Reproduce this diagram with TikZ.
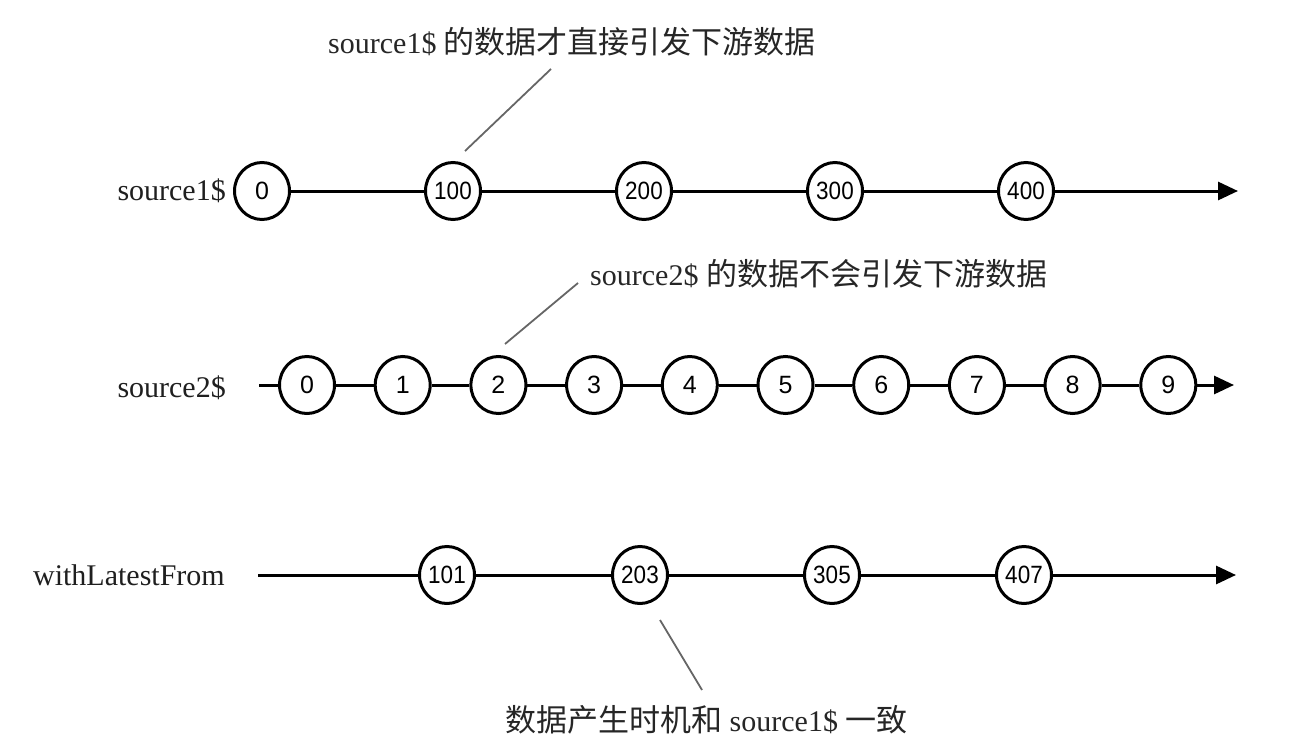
\documentclass[tikz,border=0pt]{standalone}
\usepackage{fontspec}
\usepackage{graphicx}
\setmainfont{Liberation Serif}
\newfontfamily\cjkfam{Noto Sans CJK SC}
\newcommand{\cjk}{\cjkfam\fontsize{31}{34}\selectfont}
\newfontfamily\digitfont{Liberation Sans}
\newcommand{\narrow}[1]{\scalebox{0.9}[1]{#1}}
\usetikzlibrary{shapes.geometric,arrows.meta}
\tikzset{
  marble/.style={ellipse,draw=black,line width=3pt,fill=white,inner sep=0pt,
    minimum width=55pt,minimum height=57pt,font=\digitfont\fontsize{25}{25}\selectfont},
  wide/.style={},
  axis/.style={line width=3pt,draw=black},
  axisend/.style={axis,-{Triangle[length=20pt,width=18pt]}},
  lbl/.style={font=\fontsize{30}{34}\selectfont,text=black!88,inner sep=0pt},
  note/.style={font=\fontsize{30}{34}\selectfont,text=black!85,inner sep=0pt},
  pointer/.style={draw=black!60,line width=1.8pt}
}
\begin{document}
\begin{tikzpicture}[x=1pt,y=-1pt]
\useasboundingbox (0,0) rectangle (1312,752);
% row labels
\node[lbl,anchor=east] (l1) at (226,191) {source1\$};
\node[lbl,anchor=east] (l2) at (226,388) {source2\$};
\node[lbl,anchor=east] (l3) at (225,575) {withLatestFrom};
% row 1
\node[marble] (a0) at (262,191) {0};
\node[marble,wide] (a1) at (453,191) {\narrow{100}};
\node[marble,wide] (a2) at (644,191) {\narrow{200}};
\node[marble,wide] (a3) at (835,191) {\narrow{300}};
\node[marble,wide] (a4) at (1026,191) {\narrow{400}};
\coordinate (e1) at (1238,191);
\draw[axis] (a0) -- (a1);
\draw[axis] (a1) -- (a2);
\draw[axis] (a2) -- (a3);
\draw[axis] (a3) -- (a4);
\draw[axisend] (a4) -- (e1);
% row 2
\coordinate (s2) at (259,385);
\foreach \i in {0,...,9}{
  \node[marble] (b\i) at ({307+95.7*\i},385) {\i};
}
\coordinate (e2) at (1234,385);
\draw[axis] (s2) -- (b0);
\foreach \i [evaluate=\i as \j using int(\i+1)] in {0,...,8}{
  \draw[axis] (b\i) -- (b\j);
}
\draw[axisend] (b9) -- (e2);
% row 3
\coordinate (s3) at (258,575);
\node[marble,wide] (c1) at (447,575) {\narrow{101}};
\node[marble,wide] (c2) at (640,575) {\narrow{203}};
\node[marble,wide] (c3) at (832,575) {\narrow{305}};
\node[marble,wide] (c4) at (1024,575) {\narrow{407}};
\coordinate (e3) at (1236,575);
\draw[axis] (s3) -- (c1);
\draw[axis] (c1) -- (c2);
\draw[axis] (c2) -- (c3);
\draw[axis] (c3) -- (c4);
\draw[axisend] (c4) -- (e3);
% annotations
\node[note,anchor=west] (n1) at (328,42) {source1\$ {\cjk 的数据才直接引发下游数据}};
\coordinate (p1a) at (551,69);
\coordinate (p1b) at (465,151);
\draw[pointer] (p1a) -- (p1b);
\node[note,anchor=west] (n2) at (590,274) {source2\$ {\cjk 的数据不会引发下游数据}};
\coordinate (p2a) at (578,283);
\coordinate (p2b) at (505,344);
\draw[pointer] (p2a) -- (p2b);
\node[note,anchor=west] (n3) at (505,720) {{\cjk 数据产生时机和} source1\$ {\cjk 一致}};
\coordinate (p3a) at (660,620);
\coordinate (p3b) at (702,690);
\draw[pointer] (p3a) -- (p3b);
\end{tikzpicture}
\end{document}
